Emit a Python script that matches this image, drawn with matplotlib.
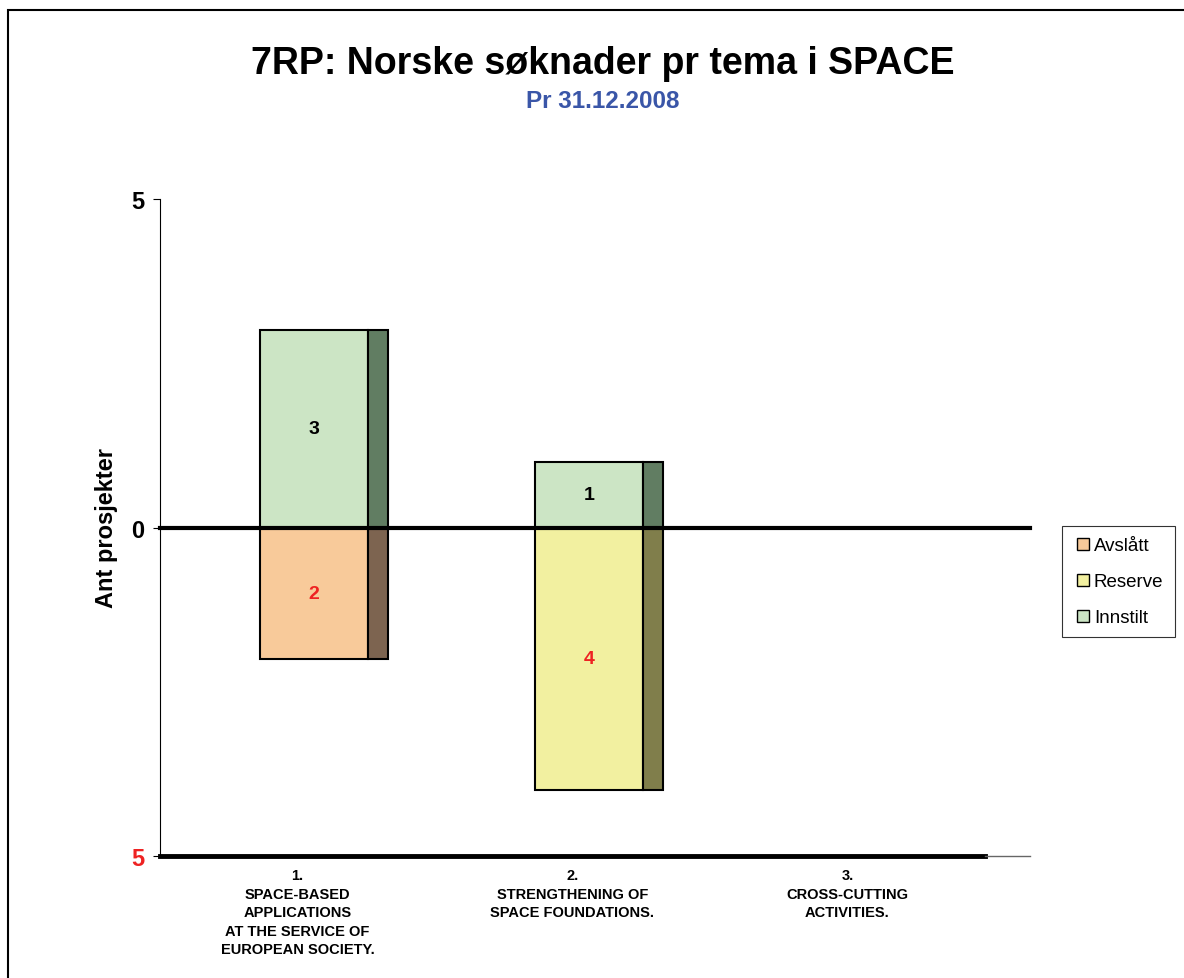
import matplotlib
matplotlib.use("Agg")
import matplotlib.pyplot as plt
from matplotlib.lines import Line2D
from matplotlib.patches import Rectangle

plt.rcParams['font.family'] = ['Liberation Sans', 'DejaVu Sans']

# temaer i SPACE
temaer = ["1.\nSPACE-BASED\nAPPLICATIONS\nAT THE SERVICE OF\nEUROPEAN SOCIETY.",
          "2.\nSTRENGTHENING OF\nSPACE FOUNDATIONS.",
          "3.\nCROSS-CUTTING\nACTIVITIES."]
innstilt = [3, 1, 0]
reserve = [0, 4, 0]
avslatt = [2, 0, 0]

front = {"Avslått": "#f8ca9a", "Reserve": "#f2f0a0", "Innstilt": "#cce5c5"}
side = {"Avslått": "#7d6450", "Reserve": "#807e4b", "Innstilt": "#617d62"}

fig = plt.figure(figsize=(11.84, 9.79), dpi=100)
ax = fig.add_axes([160 / 1184, 122 / 979, 825 / 1184, 657 / 979])

w = 0.395
dep = 0.07
off = 0.06


def draw(vals, navn, sign, txtcol):
    for i, v in enumerate(vals):
        if v == 0:
            continue
        x0 = i + off - w / 2
        ax.bar(x0, sign * v, width=w, align='edge', color=front[navn],
               edgecolor='black', linewidth=1.5, zorder=3)
        ax.bar(x0 + w, sign * v, width=dep, align='edge', color=side[navn],
               edgecolor='black', linewidth=1.5, zorder=3)
        ax.text(i + off, sign * v / 2, str(v), ha='center', va='center',
                fontsize=14, fontweight='bold', color=txtcol, zorder=5)


draw(innstilt, "Innstilt", 1, 'black')
draw(avslatt, "Avslått", -1, '#ee2222')
draw(reserve, "Reserve", -1, '#ee2222')

ax.set_xlim(-0.5, 2.5)
ax.set_ylim(-5, 5)

# null-linje og bunnlinje
ax.plot([-0.5, 2.665], [0, 0], color='black', lw=3, clip_on=False, zorder=4)
ax.plot([-0.5, 2.5], [-5, -5], color='black', lw=3.5, clip_on=False, zorder=4)
ax.plot([2.5, 2.665], [-5, -5], color='#666666', lw=1, clip_on=False, zorder=4)

for s in ['top', 'right', 'bottom']:
    ax.spines[s].set_visible(False)
ax.spines['left'].set_linewidth(0.8)

ax.set_yticks([-5, 0, 5])
ax.set_yticklabels(['5', '0', '5'], fontsize=17, fontweight='bold')
ax.get_yticklabels()[0].set_color('#ee2222')
ax.tick_params(axis='y', length=5, width=0.8, pad=6)

ax.set_xticks([0, 1, 2])
ax.set_xticklabels(temaer, fontsize=10.5, fontweight='bold', linespacing=1.4)
ax.tick_params(axis='x', length=0, pad=9)

ax.set_ylabel("Ant prosjekter", fontsize=17, fontweight='bold', labelpad=10)

fig.text(0.509, 1 - 64 / 979, "7RP: Norske søknader pr tema i SPACE",
         ha='center', va='center', fontsize=27, fontweight='bold')
fig.text(0.509, 1 - 101 / 979, "Pr 31.12.2008", ha='center', va='center',
         fontsize=17.5, fontweight='bold', color='#3a56a8')

handles = [Line2D([], [], marker='s', linestyle='none', markersize=9,
                  markerfacecolor=front[k], markeredgecolor='black',
                  markeredgewidth=1) for k in front]
leg = fig.legend(handles, list(front.keys()), loc='upper left',
                 bbox_to_anchor=(1062 / 1184, 1 - 527 / 979), fontsize=13.5,
                 frameon=True, fancybox=False, handletextpad=0.1,
                 handlelength=1.0, borderpad=0.6, labelspacing=1.0,
                 borderaxespad=0)
leg.get_frame().set_edgecolor('black')
leg.get_frame().set_linewidth(0.8)

# ramme rundt figuren
fig.patches.append(Rectangle((8 / 1184, -0.1), 1.2, 1.1 - 11 / 979,
                             transform=fig.transFigure, fill=False,
                             edgecolor='black', linewidth=1.5))

fig.savefig("out.png", dpi=100)
